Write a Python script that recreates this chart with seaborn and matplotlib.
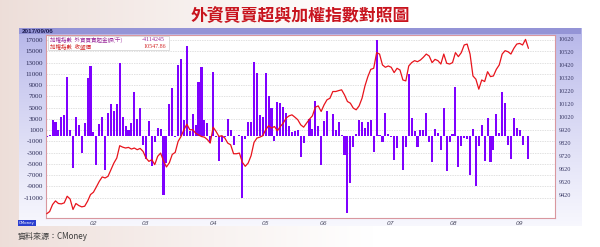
import numpy as np
import pandas as pd
import matplotlib
matplotlib.use("Agg")
import matplotlib.pyplot as plt
from matplotlib.patches import Rectangle
import seaborn as sns

# ---------------- data ----------------
foreign_net = [
    -150, 120, 2800, 2500, 940, 3300, 3650, 10350, 1060, -5760,
    3400, 1940, -3060, 2230, 10170, 12350, 590, -5230, 2000, 3300,
    -6060, 4100, 5650, 4470, 5650, 13000, 3300, 1650, 940, 2230,
    7760, 2940, 4880, -1590, -4120, 2700, -5300, -1180, 1410, 1240,
    -10590, -4820, 5650, 8530, -240, 12580, 13580, 2820, 16000, 760,
    3820, 1940, 9470, 12230, 2820, 2230, -1300, 11400, -240, -4500,
    -1180, -240, 2940, 1060, -1590, 0, 100, -11000, -590, 2470,
    2470, 13100, 11170, 3650, 3300, 11170, 7110, 4940, -940, 6060,
    5760, 5060, 4120, 1760, 700, 760, 940, -3820, -1290, 0,
    2940, 1180, 6170, 1650, -5180, 2530, 4410, 0, 3880, 940,
    2470, 50, -3350, -13760, -8350, -2000, 350, 2820, 2470, 1350,
    2350, 2820, -2940, 17050, 100, -1180, 4000, 350, -240, -4350,
    -2180, 0, -6170, -2000, 11050, 3060, 880, -2000, 1060, 1060,
    4120, -1180, -4700, 1180, 470, -2470, 4940, -6290, -1180, 350,
    8640, -5530, -1880, -410, -590, -6940, 1240, -8940, -1880, 1940,
    -4530, 3120, -4700, -2470, 3880, 470, 7820, 5880, -1700, -4120,
    3230, 1350, 940, -1650, -120, -4120,
]
taiex_close = [
    9272, 9289, 9343, 9371, 9351, 9348, 9356, 9407, 9386, 9305,
    9351, 9335, 9325, 9330, 9369, 9420, 9438, 9479, 9522, 9556,
    9548, 9561, 9612, 9663, 9702, 9797, 9786, 9779, 9784, 9771,
    9779, 9766, 9776, 9753, 9702, 9676, 9689, 9651, 9715, 9740,
    9680, 9633, 9665, 9730, 9745, 9830, 9868, 9920, 9963, 9920,
    9920, 9894, 9880, 9868, 9863, 9845, 9817, 9940, 9907, 9868,
    9874, 9856, 9817, 9804, 9735, 9735, 9740, 9669, 9638, 9663,
    9720, 9822, 9856, 9863, 9874, 9920, 9951, 9933, 9945, 9912,
    9945, 9971, 10010, 10027, 10035, 10017, 9997, 9958, 9940, 9971,
    10002, 10027, 10094, 10104, 10061, 10112, 10151, 10163, 10215, 10215,
    10222, 10228, 10189, 10138, 10125, 10087, 10074, 10104, 10163, 10258,
    10330, 10386, 10394, 10515, 10504, 10420, 10402, 10412, 10402, 10361,
    10394, 10381, 10304, 10297, 10412, 10438, 10453, 10445, 10458, 10479,
    10504, 10489, 10438, 10463, 10453, 10427, 10504, 10433, 10427, 10438,
    10515, 10484, 10515, 10574, 10581, 10504, 10335, 10310, 10233, 10304,
    10292, 10368, 10330, 10335, 10386, 10420, 10504, 10530, 10522, 10504,
    10548, 10581, 10586, 10574, 10617, 10548,
]
month_labels = ["02", "03", "04", "05", "06", "07", "08", "09"]
month_days = [15.9, 34.0, 57.0, 74.8, 95.0, 117.9, 139.2, 161.8]
left_ticks = list(range(-11000, 17001, 2000))
right_ticks = list(range(9420, 10621, 100))

df = pd.DataFrame({"day": np.arange(len(foreign_net)),
                   "net": foreign_net,
                   "close": taiex_close})

# ---------------- style ----------------
sns.set_theme(style="white")
plt.rcParams["font.family"] = ["Noto Sans CJK TC", "DejaVu Sans"]

W, H = 600, 247
fig = plt.figure(figsize=(W / 100, H / 100), dpi=100)


def rect(l, t, r, b):
    return [l / W, 1 - b / H, (r - l) / W, (b - t) / H]


# page background: warm pink at left fading to white
bg = fig.add_axes([0, 0, 1, 1])
bg.axis("off")
xs = np.linspace(0, 1, 400)
t = np.clip(xs / 0.62, 0, 1) ** 0.9
pink = np.array([0.93, 0.87, 0.85])
white = np.array([1.0, 1.0, 1.0])
row = (1 - t)[:, None] * pink + t[:, None] * white
img = np.repeat(row[None, :, :], 10, axis=0)
bg.imshow(img, aspect="auto", extent=[0, 1, 0, 1])
bg.set_xlim(0, 1)
bg.set_ylim(0, 1)

# chart panel: lavender vertical gradient
panel = fig.add_axes(rect(18.5, 28, 581, 226))
panel.axis("off")
ys = np.linspace(0, 1, 200)
lav_top = np.array([0.70, 0.70, 0.91])
lav_bot = np.array([0.97, 0.97, 0.995])
tv = ys ** 0.8
col = (1 - tv)[:, None] * lav_top + tv[:, None] * lav_bot
pimg = np.repeat(col[:, None, :], 10, axis=1)
panel.imshow(pimg, aspect="auto", extent=[0, 1, 0, 1])
panel.set_xlim(0, 1)
panel.set_ylim(0, 1)
# top band
fig.patches.append(Rectangle((18.5 / W, 1 - 34.5 / H), (581 - 18.5) / W, 6.5 / H,
                             transform=fig.transFigure, facecolor="#9494d6",
                             edgecolor="none", zorder=1))
fig.text(22 / W, 1 - 31.2 / H, "2017/09/06", fontsize=4.6, fontweight="bold",
         color="#1c1c52", family="Liberation Sans", va="center", ha="left", zorder=3)

# ---------------- main plot ----------------
ax = fig.add_axes(rect(46, 35, 555, 217.5))
ax.set_facecolor("white")
sns.barplot(data=df, x="day", y="net", native_scale=True, color="#7f00ff",
            saturation=1, width=0.72, errorbar=None, linewidth=0, ax=ax)
ax.set_xlim(-0.25, 174.1)
ax.set_ylim(-14526, 17892)
ax.set_yticks(left_ticks)
ax.set_yticklabels([str(v) for v in left_ticks], fontsize=5,
                   family="Liberation Serif", color="#2a2a55")
ax.yaxis.grid(True, color="#d4d4d4", linestyle=(0, (2, 1.5)), linewidth=0.5)
ax.set_axisbelow(True)
ax.tick_params(axis="y", length=0, pad=2.2)
ax.set_xticks(month_days)
ax.set_xticklabels(month_labels, fontsize=4.3, style="italic", color="#505066",
                   family="DejaVu Sans")
ax.set_xticks(np.arange(0, 175), minor=True)
ax.tick_params(axis="x", which="major", length=2.2, width=0.5, color="#c88890",
               pad=0.6, direction="out")
ax.tick_params(axis="x", which="minor", length=1.3, width=0.4, color="#d9a0a8",
               direction="out")
ax.set_xlabel("")
ax.set_ylabel("")
for s in ax.spines.values():
    s.set_visible(True)
    s.set_color("#d9979f")
    s.set_linewidth(0.8)

ax2 = ax.twinx()
sns.lineplot(data=df, x="day", y="close", color="#e8141c", linewidth=0.9, ax=ax2)
ax2.set_ylim(9243, 10651)
ax2.set_xlim(-0.25, 174.1)
ax2.set_yticks(right_ticks)
ax2.set_yticklabels([str(v) for v in right_ticks], fontsize=4.4,
                    family="Liberation Serif", color="#3a3a66")
ax2.tick_params(axis="y", length=0, pad=2.5)
ax2.set_ylabel("")
ax2.set_xlabel("")
ax2.grid(False)
for s in ax2.spines.values():
    s.set_visible(False)

# legend box (top-left of plot)
fig.patches.append(Rectangle((47.5 / W, 1 - 50.5 / H), (169 - 47.5) / W, 14.5 / H,
                             transform=fig.transFigure, facecolor="white",
                             edgecolor="#cfcfcf", linewidth=0.5, zorder=5))
fig.text(50 / W, 1 - 39.8 / H, "加權指數  外資買賣超金額(千)", fontsize=4.0,
         color="#9a2a9a", va="center", ha="left", zorder=6)
fig.text(142 / W, 1 - 39.8 / H, "-4114245", fontsize=4.3, color="#9a2a9a",
         va="center", ha="left", zorder=6, family="Liberation Serif")
fig.text(50 / W, 1 - 46.3 / H, "加權指數  收盤價", fontsize=4.0,
         color="#d42a2a", va="center", ha="left", zorder=6)
fig.text(143 / W, 1 - 46.3 / H, "10547.86", fontsize=4.3, color="#d42a2a",
         va="center", ha="left", zorder=6, family="Liberation Serif")

# title
fig.text(0.5, 1 - 16 / H, "外資買賣超與加權指數對照圖", fontsize=12.2,
         fontweight="bold", color="#c8141e", ha="center", va="center")

# CMoney tag and source
fig.text(19 / W, 1 - 223.3 / H, "CMoney", fontsize=2.8, color="white",
         family="DejaVu Sans", va="center", ha="left",
         bbox=dict(boxstyle="square,pad=0.25", facecolor="#2b3fd0",
                   edgecolor="none"))
fig.text(18 / W, 1 - 236.5 / H, "資料來源：CMoney", fontsize=5.8,
         color="#3c3c3c", va="center", ha="left")

fig.savefig("out.png", dpi=100)
